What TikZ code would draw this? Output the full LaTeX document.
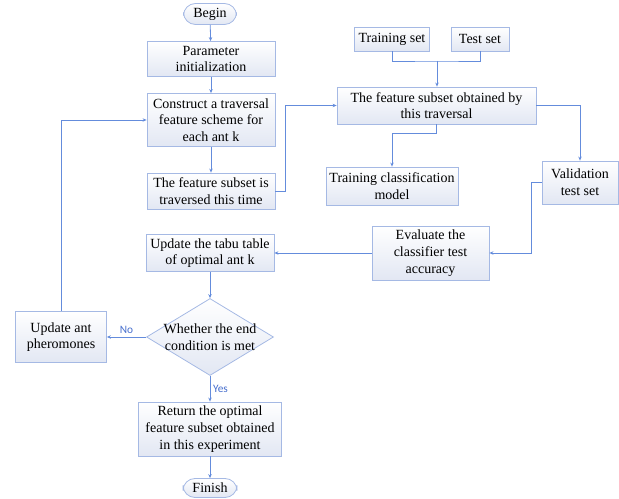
\documentclass[tikz,border=0pt]{standalone}
\usepackage{fontspec}
\setmainfont{Liberation Serif}
\newfontfamily\lblfont{Carlito}
\usepackage{tikz}
\usetikzlibrary{arrows.meta, positioning, calc, shapes.geometric}
\usepackage{xcolor}
\definecolor{lineblue}{RGB}{100,140,220}
\definecolor{edgeblue}{RGB}{165,185,228}
\definecolor{boxshade}{RGB}{226,231,243}
\definecolor{labelblue}{RGB}{70,110,205}

\tikzset{
  box/.style={draw=edgeblue, line width=0.6pt, top color=white, bottom color=boxshade,
    align=center, inner sep=1pt, font=\fontsize{10.5}{12.5}\selectfont},
  terminal/.style={box, rounded corners=9pt},
  decision/.style={diamond, draw=edgeblue, line width=0.6pt, top color=white, bottom color=boxshade,
    inner sep=0pt, minimum width=95.25pt, minimum height=57.75pt},
  flow/.style={draw=lineblue, line width=0.6pt, -{Stealth[length=3pt,width=2.6pt]}},
  link/.style={draw=lineblue, line width=0.6pt},
  lbl/.style={font=\lblfont\fontsize{8.5}{10}\selectfont, text=labelblue, inner sep=2pt}
}

\begin{document}
\begin{tikzpicture}[x=0.75pt, y=-0.75pt]
  \useasboundingbox (0,0) rectangle (619,499);
  % main column
  \node[terminal, minimum width=39.75pt, minimum height=15.75pt] (begin) at (210,14) {Begin};
  \node[box, minimum width=96pt, minimum height=26.25pt] (param) at (211,59) {Parameter\\initialization};
  \node[box, minimum width=96pt, minimum height=39.75pt] (construct) at (211,120) {Construct a traversal\\feature scheme for\\each ant k};
  \node[box, minimum width=96pt, minimum height=27pt] (traversed) at (211,191) {The feature subset is\\traversed this time};
  \node[box, minimum width=96pt, minimum height=27.75pt] (tabu) at (210,253) {Update the tabu table\\of optimal ant k};
  \node[decision, label={[align=center, font=\fontsize{10.5}{12.5}\selectfont]center:Whether the end\\condition is met}] (cond) at (210,337) {};
  \node[box, minimum width=68.25pt, minimum height=38.25pt] (phero) at (61,337) {Update ant\\pheromones};
  \node[box, minimum width=107.25pt, minimum height=40.5pt] (ret) at (210,429) {Return the optimal\\feature subset obtained\\in this experiment};
  \node[terminal, minimum width=40.5pt, minimum height=14.25pt] (finish) at (210,488) {Finish};
  % right part
  \node[box, minimum width=56.25pt, minimum height=18pt] (trainset) at (392,39) {Training set};
  \node[box, minimum width=43.5pt, minimum height=18pt] (testset) at (480,39) {Test set};
  \node[box, minimum width=149.25pt, minimum height=27.75pt] (subset) at (436.5,105.5) {The feature subset obtained by\\this traversal};
  \node[box, minimum width=99pt, minimum height=28.5pt] (trainmodel) at (392,186) {Training classification\\model};
  \node[box, minimum width=57pt, minimum height=32.25pt] (valid) at (580,182.5) {Validation\\test set};
  \node[box, minimum width=87.75pt, minimum height=40.5pt] (evaluate) at (430.5,253) {Evaluate the\\classifier test\\accuracy};

  % connectors
  \draw[flow] (begin) -- (param);
  \draw[flow] (param) -- (construct);
  \draw[flow] (construct) -- (traversed);
  \draw[flow] (traversed.east) -- ++(10,0) |- (subset.west);
  \coordinate (join) at (437,61);
  \draw[link] (trainset.south) |- (join) -| (testset.south);
  \draw[flow] (join) -- (join |- subset.north);
  \draw[flow] (subset.south) -- ++(0,9) -| (trainmodel.north);
  \draw[flow] (subset.east) -| (valid.north);
  \draw[flow] (valid.west) -- ++(-10,0) |- (evaluate.east);
  \draw[flow] (evaluate.west) -- (tabu.east);
  \draw[flow] (tabu) -- (cond);
  \draw[flow] (cond.west) -- node[lbl, above] {No} (phero.east);
  \draw[flow] (phero.north) |- (construct.west);
  \draw[flow] (cond.south) -- node[lbl, right] {Yes} (ret.north);
  \draw[flow] (ret) -- (finish);
\end{tikzpicture}
\end{document}
